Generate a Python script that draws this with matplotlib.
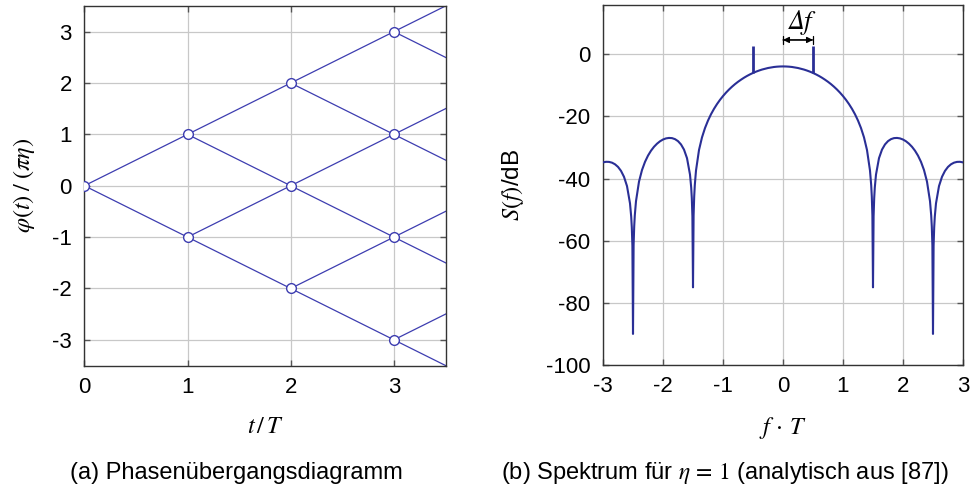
import numpy as np
import matplotlib
matplotlib.use("Agg")
import matplotlib.pyplot as plt

plt.rcParams['font.family'] = ['Liberation Sans', 'DejaVu Sans']
plt.rcParams['mathtext.fontset'] = 'stix'

# phase trellis: node positions phi/(pi*eta) at each symbol time t/T
trellis_t = [0, 1, 1, 2, 2, 2, 3, 3, 3, 3]
trellis_phi = [0, 1, -1, 2, 0, -2, 3, 1, -1, -3]

# spectrum S(f) in dB for f*T >= 0 (curve is symmetric about 0)
f_half = [0.0, 0.05, 0.1, 0.15, 0.2, 0.25, 0.3, 0.35, 0.4, 0.45, 0.5, 0.55, 0.6, 0.65,
          0.7, 0.75, 0.8, 0.85, 0.9, 0.95, 1.0, 1.05, 1.1, 1.15, 1.2, 1.25, 1.3, 1.35,
          1.4, 1.45, 1.47, 1.48, 1.49, 1.5, 1.51, 1.52, 1.53, 1.55, 1.6, 1.65, 1.7, 1.75,
          1.8, 1.85, 1.9, 1.95, 2.0, 2.05, 2.1, 2.15, 2.2, 2.25, 2.3, 2.35, 2.4, 2.45,
          2.47, 2.48, 2.49, 2.5, 2.51, 2.52, 2.53, 2.55, 2.6, 2.65, 2.7, 2.75, 2.8, 2.85,
          2.9, 2.95, 3.0]
s_half = [-3.92, -3.94, -4.00, -4.10, -4.25, -4.43, -4.67, -4.93, -5.25, -5.61, -6.02, -6.48,
          -6.99, -7.56, -8.19, -8.87, -9.62, -10.45, -11.36, -12.36, -13.46, -14.68, -16.04,
          -17.57, -19.31, -21.34, -23.75, -26.75, -30.82, -37.43, -42.12, -45.76, -51.9,
          -75.0, -52.17, -46.28, -42.90, -38.73, -33.44, -30.69, -29.02, -27.96, -27.32,
          -26.99, -26.93, -27.08, -27.44, -28.01, -28.79, -29.78, -31.04, -32.62, -34.63,
          -37.26, -40.99, -47.27, -51.84, -55.42, -61.51, -90.0, -61.66, -55.71, -52.27,
          -47.99, -42.43, -39.44, -37.53, -36.25, -35.41, -34.89, -34.64, -34.61, -34.80]

# discrete spectral lines at +-Delta f / 2
line_f = [-0.5, 0.5]
line_base = -6.02
line_top = 2.5

f_full = np.concatenate([-np.array(f_half[:0:-1]), f_half])
s_full = np.concatenate([np.array(s_half[:0:-1]), s_half])

trellis_color = '#3d3db0'
spec_color = '#2a2f96'
grid_color = '#c8c8c8'
tick_size = 16
label_size = 17.5


def style_axes(ax):
    ax.grid(True, color=grid_color, linewidth=0.9)
    ax.set_axisbelow(True)
    ax.tick_params(direction='in', length=4, width=1, color='#555555',
                   top=True, right=True, labelsize=tick_size)
    ax.tick_params(axis='y', pad=9)
    ax.tick_params(axis='x', pad=8)
    for sp in ax.spines.values():
        sp.set_color('#333333')
        sp.set_linewidth(1.0)


fig = plt.figure(figsize=(9.74, 4.91), dpi=100)

# (a) phase transition diagram
ax1 = fig.add_axes([0.0866, 0.2556, 0.3708, 0.7322])
style_axes(ax1)
for t0, p0 in zip(trellis_t, trellis_phi):
    for step in (1, -1):
        ax1.plot([t0, t0 + 1], [p0, p0 + step], color=trellis_color, lw=0.9, zorder=2)
ax1.plot(trellis_t, trellis_phi, 'o', ms=7, mfc='white', mec=trellis_color, mew=1.0, zorder=3)
ax1.set_xlim(0, 3.5)
ax1.set_ylim(-3.5, 3.5)
ax1.set_xticks([0, 1, 2, 3])
ax1.set_yticks([-3, -2, -1, 0, 1, 2, 3])
ax1.set_yticklabels(['-3', '-2', '-1', '0', '1', '2', '3'])
ax1.set_xlabel(r'$t\,/\,T$', fontsize=label_size, labelpad=13)
ax1.set_ylabel(r'$\varphi(t)\;/\;(\pi\eta)$', fontsize=label_size, labelpad=11)

# (b) spectrum
ax2 = fig.add_axes([0.6191, 0.2566, 0.3696, 0.7342])
style_axes(ax2)
ax2.plot(f_full, s_full, color=spec_color, lw=1.5, zorder=3)
ax2.vlines(line_f, line_base, line_top, color=spec_color, lw=2.0, zorder=3)
ax2.set_xlim(-3, 3)
ax2.set_ylim(-100, 16)
ax2.set_xticks([-3, -2, -1, 0, 1, 2, 3])
ax2.set_xticklabels(['-3', '-2', '-1', '0', '1', '2', '3'])
ax2.set_yticks([-100, -80, -60, -40, -20, 0])
ax2.set_yticklabels(['-100', '-80', '-60', '-40', '-20', '0'])
ax2.set_xlabel(r'$f\,\cdot\,T$', fontsize=label_size, labelpad=13)
ax2.set_ylabel(r'$S(f)$/dB', fontsize=label_size, labelpad=14)

# Delta f marker between the two lines
ax2.annotate('', xy=(0.5, 4.6), xytext=(0, 4.6),
             arrowprops=dict(arrowstyle='|-|', lw=0.9, color='black',
                             mutation_scale=3, shrinkA=0, shrinkB=0))
ax2.annotate('', xy=(0.5, 4.6), xytext=(0, 4.6),
             arrowprops=dict(arrowstyle='<|-|>', lw=0.9, color='black',
                             mutation_scale=9, shrinkA=0, shrinkB=0))
ax2.text(0.3, 10.3, 'Δf', family='STIXGeneral', style='italic', fontsize=19,
         ha='center', va='center')

fig.text(0.243, 0.037, '(a) Phasenübergangsdiagramm', fontsize=17, ha='center', va='center')
fig.text(0.744, 0.037, r'(b) Spektrum für $\eta\,=\,1$ (analytisch aus [87])',
         fontsize=17, ha='center', va='center')

fig.savefig('out.png', dpi=100)
